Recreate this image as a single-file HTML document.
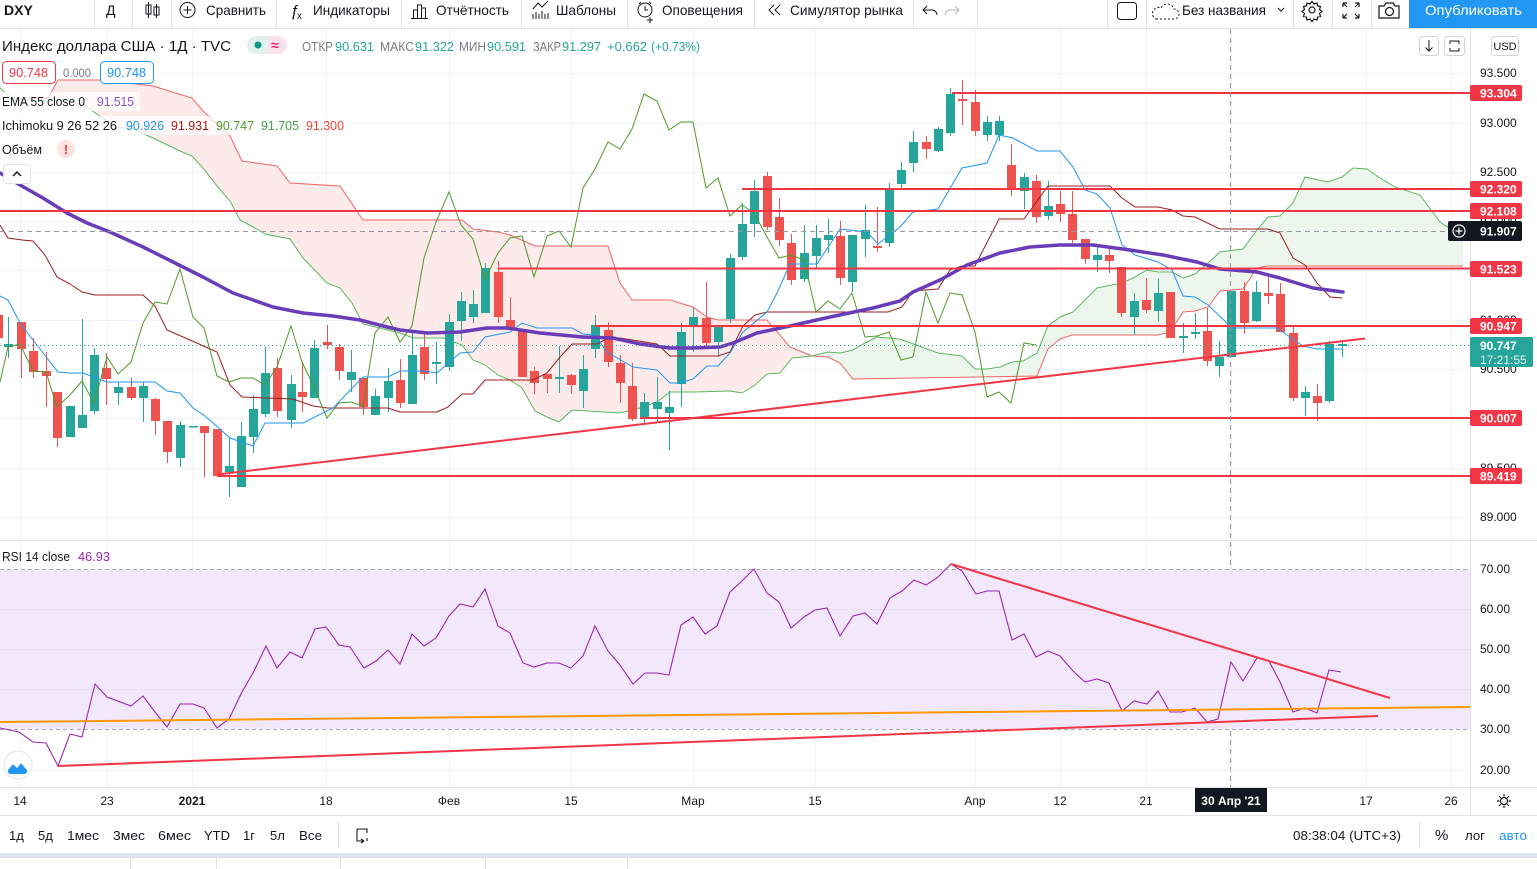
<!DOCTYPE html>
<html><head><meta charset="utf-8">
<style>
html,body{margin:0;padding:0;background:#fff;width:1537px;height:869px;overflow:hidden}
svg{display:block}
text{font-family:"Liberation Sans","Noto Sans CJK SC",sans-serif}
</style></head><body>
<svg width="1537" height="869" viewBox="0 0 1537 869" xmlns="http://www.w3.org/2000/svg">
<defs>
<clipPath id="mc"><rect x="0" y="29" width="1470" height="510"/></clipPath>
<clipPath id="rc"><rect x="0" y="541" width="1470" height="246"/></clipPath>
</defs>
<rect width="1537" height="869" fill="#fff"/>

<!-- ============ TOOLBAR ============ -->
<g fill="#131722" font-size="14">
<text x="4" y="15" font-weight="bold">DXY</text>
<text x="106" y="15">Д</text>
<g stroke="#131722" stroke-width="1" fill="none">
<path d="M148.5 2v16M156.5 4v14"/><rect x="146" y="5" width="5" height="9"/><rect x="154" y="7" width="5" height="8"/>
<circle cx="187.5" cy="10" r="7.5"/><path d="M187.5 6v8M183.5 10h8"/>
<path d="M413.5 18V10h4v8M417.5 18V5h4v13M421.5 18V8h4v10M411 18.5h17"/>
<path d="M533 19v-5M536 19v-7M539 19v-5M542 19v-8M545 19v-5M548 19v-6M533 9l5-6 4 4 6-6"/>
<circle cx="645" cy="10" r="7"/><path d="M645 6v4h3M650 17v6M647 20h6M639 4l2-2M651 4l-2-2"/>
<path d="M774 5l-5 5 5 5M780 5l-5 5 5 5"/>
<path d="M927 6l-4 4 4 4M923 10h9a5 5 0 0 1 5 5" />
</g>
<path d="M955 6l4 4-4 4M959 10h-9a5 5 0 0 0-5 5" stroke="#B2B5BE" fill="none"/>
<text x="290" y="16" font-style="italic" font-size="16">ƒ</text><text x="297" y="19" font-size="10">x</text>
<text x="206" y="15" textLength="60" lengthAdjust="spacingAndGlyphs">Сравнить</text>
<text x="313" y="15" textLength="77" lengthAdjust="spacingAndGlyphs">Индикаторы</text>
<text x="436" y="15" textLength="73" lengthAdjust="spacingAndGlyphs">Отчётность</text>
<text x="556" y="15" textLength="60" lengthAdjust="spacingAndGlyphs">Шаблоны</text>
<text x="662" y="15" textLength="81" lengthAdjust="spacingAndGlyphs">Оповещения</text>
<text x="790" y="15" textLength="113" lengthAdjust="spacingAndGlyphs">Симулятор рынка</text>
<rect x="1117.5" y="2.5" width="19" height="17" rx="3" fill="none" stroke="#131722"/>
<path d="M1156 19h18a5 5 0 0 0 0-10a7 7 0 0 0-13-1a6 6 0 0 0-5 11" fill="none" stroke="#131722" stroke-dasharray="2 2"/>
<text x="1182" y="15" textLength="84" lengthAdjust="spacingAndGlyphs">Без названия</text>
<path d="M1278 8l3 3 3-3" fill="none" stroke="#131722"/>
<g fill="none" stroke="#131722" stroke-width="1.2">
<circle cx="1312" cy="10" r="3"/>
<path d="M1312 1.5l2 2.5 3-1 .5 3 3 .5-1 3 2.5 2-2.5 2 1 3-3 .5-.5 3-3-1-2 2.5-2-2.5-3 1-.5-3-3-.5 1-3-2.5-2 2.5-2-1-3 3-.5.5-3 3 1z"/>
<path d="M1343 3l4 4M1343 3v4M1343 3h4M1359 3l-4 4M1359 3v4M1359 3h-4M1343 18l4-4M1343 18v-4M1343 18h4M1359 18l-4-4M1359 18v-4M1359 18h-4"/>
<path d="M1379 6h5l2-3h7l2 3h4v12h-20z"/><circle cx="1389.5" cy="11.5" r="4"/>
</g>
</g>
<rect x="1409" y="0" width="128" height="28" fill="#2196F3"/>
<text x="1425" y="15" fill="#fff" font-size="14" textLength="97" lengthAdjust="spacingAndGlyphs">Опубликовать</text>
<g stroke="#E0E3EB">
<path d="M94.5 0v28M132.5 0v28M171.5 0v28M276.5 0v28M401.5 0v28M521.5 0v28M627.5 0v28M754.5 0v28M913.5 0v28M977.5 0v28M1107.5 0v28M1146.5 0v28M1293.5 0v28M1332.5 0v28M1371.5 0v28"/>
<path d="M0 28.5h1537"/>
</g>

<!-- ============ GRID ============ -->
<g stroke="#F0F3FA" stroke-width="1">
<path d="M0 73.5h1470M0 123.5h1470M0 172.5h1470M0 221.5h1470M0 270.5h1470M0 320.5h1470M0 369.5h1470M0 418.5h1470M0 468.5h1470M0 517.5h1470"/>
<path d="M20.5 29v758M107.5 29v758M192.5 29v758M326.5 29v758M449.5 29v758M571.5 29v758M693.5 29v758M815.5 29v758M975.5 29v758M1060.5 29v758M1146.5 29v758M1231.5 29v758M1366.5 29v758M1451.5 29v758"/>
</g>

<!-- ============ MAIN PANE ============ -->
<g clip-path="url(#mc)">
<!-- cloud fills -->
<polygon fill="#FDEBEB" points="0,98 48,98 58,80 100,80 153,86 192,98 203,111 230,136 242,161 277,166 290,183 340,186 363,220 462,220 473,229 498,232 510,235 535,246 608,246 620,283 632,300 670,300 693,307 707,317 718,320 767,320 790,347 812,356 792,358 780,373 767,374 755,385 742,393 730,391 693,392 670,392 657,402 640,408 620,413 572,410 559,422 547,417 535,411 522,388 510,380 498,375 485,365 473,360 462,345 443,338 413,338 400,333 363,324 352,303 340,288 327,283 303,258 290,239 265,234 255,228 240,220 230,201 217,186 203,168 192,156 180,151 153,138 130,128 117,128 88,108 80,100 13,100 0,88"/>
<polygon fill="#ECF6EC" points="812,356 828,352 840,353 853,350 865,343 877,337 900,339 938,353 962,356 975,369 987,369 1000,367 1012,362 1023,361 1037,353 1048,326 1060,317 1073,312 1097,288 1122,283 1133,278 1147,270 1158,272 1172,272 1183,278 1195,274 1208,263 1220,252 1243,249 1257,230 1268,217 1280,216 1293,203 1305,177 1328,182 1342,177 1353,168 1367,169 1380,178 1395,187 1420,195 1440,222 1452,230 1463,232 1463,266 1268,266 1257,268 1243,289 1220,291 1208,307 1195,311 1183,312 1170,332 1158,335 1072,335 1060,339 1048,349 1037,376 853,379 840,363 828,357"/>
<!-- lead B -->
<polyline fill="none" stroke="#F26464" stroke-width="1" points="0,98 48,98 58,80 100,80 153,86 192,98 203,111 230,136 242,161 277,166 290,183 340,186 363,220 462,220 473,229 498,232 510,235 535,246 608,246 620,283 632,300 670,300 693,307 707,317 718,320 767,320 790,347 812,356 828,357 840,363 853,379 1037,376 1048,349 1060,339 1072,335 1158,335 1170,332 1183,312 1195,311 1208,307 1220,291 1243,289 1257,268 1268,266 1463,266"/>
<!-- lead A -->
<polyline fill="none" stroke="#5CB860" stroke-width="1" points="0,88 13,100 80,100 88,108 117,128 130,128 153,138 180,151 192,156 203,168 217,186 230,201 240,220 255,228 265,234 290,239 303,258 327,283 340,288 352,303 363,324 400,333 413,338 443,338 462,345 473,360 485,365 498,375 510,380 522,388 535,411 547,417 559,422 572,410 620,413 640,408 657,402 670,392 693,392 730,391 742,393 755,385 767,374 780,373 792,358 812,356 828,352 840,353 853,350 865,343 877,337 900,339 938,353 962,356 975,369 987,369 1000,367 1012,362 1023,361 1037,353 1048,326 1060,317 1073,312 1097,288 1122,283 1133,278 1147,270 1158,272 1172,272 1183,278 1195,274 1208,263 1220,252 1243,249 1257,230 1268,217 1280,216 1293,203 1305,177 1328,182 1342,177 1353,168 1367,169 1380,178 1395,187 1420,195 1440,222 1452,230 1463,232"/>

<!-- candles -->
<path stroke="#26A69A" stroke-width="1" fill="none" d="M8.5 317V358M70.5 406V437M82.5 319V428M94.5 348V414M118.5 382V405M143.5 382V422M180.5 421V467M229.5 438V497M241.5 422V487M253.5 395V453M265.5 347V417M291.5 375V428M314.5 340V398M351.5 350V392M375.5 389V415M388.5 368V412M412.5 332V404M436.5 342V384M449.5 314V371M461.5 292V341M473.5 290V323M485.5 263V313M559.5 346V393M583.5 355V408M595.5 315V358M644.5 393V423M657.5 377V422M669.5 391V450M681.5 323V407M693.5 308V352M718.5 327V357M730.5 254V323M742.5 203V260M754.5 180V237M804.5 225V282M816.5 225V268M828.5 219V253M852.5 235V292M865.5 205V257M889.5 183V247M901.5 162V189M913.5 131V172M938.5 127V152M950.5 88V136M987.5 116V141M999.5 116V141M1024.5 173V209M1048.5 181V220M1097.5 247V272M1134.5 293V335M1158.5 279V321M1183.5 323V353M1195.5 313V339M1219.5 341V377M1231.5 291V357M1256.5 281V322M1305.5 386V416M1329.5 341V403M1342.5 342V357"/>
<path fill="#26A69A" d="M4 344h9v3h-9zM66 406h9v31h-9zM78 415h9v13h-9zM90 355h9v56h-9zM114 387h9v6h-9zM139 386h9v12h-9zM176 425h9v33h-9zM189 426h9v1.5h-9zM225 466h9v6h-9zM237 436h9v51h-9zM249 409h9v28h-9zM261 373h9v41h-9zM287 384h9v36h-9zM310 348h9v50h-9zM347 372h9v8h-9zM371 396h9v19h-9zM384 381h9v17h-9zM408 355h9v49h-9zM432 362h9v2h-9zM445 322h9v45h-9zM457 301h9v20h-9zM469 304h9v13h-9zM481 268h9v45h-9zM555 377h9v2h-9zM579 369h9v22h-9zM591 325h9v24h-9zM640 402h9v15h-9zM653 402h9v7h-9zM665 407h9v6h-9zM677 332h9v52h-9zM689 317h9v10h-9zM714 327h9v15h-9zM726 258h9v61h-9zM738 224h9v33h-9zM750 191h9v33h-9zM800 253h9v26h-9zM812 238h9v18h-9zM824 235h9v5h-9zM848 235h9v47h-9zM861 230h9v9h-9zM885 189h9v54h-9zM897 170h9v14h-9zM909 142h9v21h-9zM934 129h9v22h-9zM946 94h9v39h-9zM983 122h9v13h-9zM995 121h9v14h-9zM1020 177h9v14h-9zM1044 206h9v10h-9zM1093 255h9v5h-9zM1130 301h9v16h-9zM1154 293h9v18h-9zM1179 336h9v2h-9zM1191 332h9v2h-9zM1215 357h9v9h-9zM1227 291h9v66h-9zM1252 292h9v29h-9zM1301 392h9v6h-9zM1325 344h9v57h-9zM1338 344h9v2h-9z"/>
<path stroke="#EF5350" stroke-width="1" fill="none" d="M-1.5 310V345M21.5 322V378M33.5 338V378M46.5 352V407M57.5 392V447M106.5 353V405M131.5 378V400M155.5 398V435M167.5 421V463M204.5 426V477M217.5 429V476M277.5 358V417M302.5 362V412M327.5 325V349M339.5 344V380M363.5 378V415M400.5 359V408M424.5 333V380M498.5 261V323M510.5 297V329M522.5 329V377M534.5 367V394M547.5 374V393M571.5 374V394M608.5 322V367M620.5 355V403M632.5 363V421M706.5 282V346M767.5 172V230M779.5 198V246M791.5 234V285M840.5 221V285M877.5 207V252M926.5 136V159M962.5 80V125M975.5 90V136M1011.5 144V196M1036.5 175V223M1060.5 191V222M1072.5 191V243M1085.5 239V264M1109.5 246V273M1121.5 267V317M1146.5 278V313M1170.5 292V338M1207.5 308V366M1244.5 282V334M1268.5 277V304M1280.5 283V332M1293.5 327V401M1317.5 384V421"/>
<path fill="#EF5350" d="M-6 315h9v23h-9zM17 322h9v27h-9zM29 351h9v21h-9zM42 371h9v5h-9zM53 392h9v46h-9zM102 368h9v11h-9zM127 387h9v11h-9zM151 399h9v22h-9zM163 421h9v31h-9zM200 426h9v7h-9zM213 429h9v47h-9zM273 368h9v43h-9zM298 392h9v5h-9zM323 342h9v3h-9zM335 347h9v24h-9zM359 378h9v29h-9zM396 380h9v23h-9zM420 347h9v27h-9zM494 272h9v45h-9zM506 320h9v9h-9zM518 329h9v48h-9zM530 371h9v12h-9zM543 374h9v5h-9zM567 375h9v10h-9zM604 330h9v32h-9zM616 363h9v20h-9zM628 386h9v33h-9zM702 318h9v25h-9zM763 176h9v51h-9zM775 217h9v23h-9zM787 243h9v37h-9zM836 236h9v42h-9zM873 246h9v2h-9zM922 142h9v7h-9zM958 99h9v2h-9zM971 102h9v29h-9zM1007 165h9v25h-9zM1032 181h9v36h-9zM1056 204h9v10h-9zM1068 214h9v26h-9zM1081 239h9v20h-9zM1105 255h9v6h-9zM1117 267h9v46h-9zM1142 300h9v10h-9zM1166 292h9v46h-9zM1203 331h9v30h-9zM1240 291h9v32h-9zM1264 293h9v3h-9zM1276 294h9v38h-9zM1289 333h9v65h-9zM1313 396h9v7h-9z"/>

<!-- kijun -->
<polyline fill="none" stroke="#9C1C1C" stroke-width="1" points="0,225 8,238 22,240 33,241 45,255 57,277 70,284 82,292 95,295 143,295 155,306 167,330 190,340 217,352 230,385 242,397 293,399 313,406 327,408 388,408 400,412 437,412 448,407 462,394 473,394 485,380 533,380 547,373 560,357 572,344 597,344 608,338 620,338 657,344 670,356 718,356 730,352 743,326 755,315 767,312 888,312 902,307 913,291 938,289 950,270 962,266 975,266 999,219 1024,219 1048,186 1110,186 1122,198 1135,207 1158,207 1172,210 1183,216 1195,217 1220,229 1268,229 1280,233 1293,258 1305,265 1317,283 1330,297 1342,298"/>
<!-- tenkan -->
<polyline fill="none" stroke="#2196F3" stroke-width="1" points="0,296 8,300 20,323 33,340 58,372 70,373 83,373 107,382 155,382 167,391 180,393 193,408 205,416 230,438 253,446 265,423 303,423 333,408 363,377 388,377 400,371 423,371 437,373 460,353 473,352 485,337 510,332 522,323 537,328 572,328 583,334 595,335 607,352 633,367 657,370 670,383 680,383 693,379 707,366 718,366 730,353 743,332 767,312 777,293 790,264 817,264 840,229 867,232 878,244 900,227 913,212 938,209 962,168 987,163 999,135 1013,138 1037,151 1060,151 1073,167 1085,190 1097,194 1110,208 1122,245 1135,255 1158,262 1172,270 1183,296 1195,297 1208,305 1227,323 1233,328 1277,328 1290,337 1303,346 1317,349 1342,349"/>
<!-- lagging -->
<polyline fill="none" stroke="#4E9A28" stroke-width="1" points="0,382 8,347 20,344 33,371 46,372 57,407 70,395 82,381 94,403 107,357 118,374 131,362 143,323 155,302 167,304 180,269 193,317 204,328 217,376 229,382 241,378 253,378 265,385 277,367 291,326 302,362 314,387 327,418 339,403 351,402 363,406 375,333 388,317 400,342 412,326 424,258 436,222 449,192 461,225 473,239 485,279 498,253 510,238 522,236 534,277 547,236 559,231 571,247 583,188 595,169 608,142 620,149 632,129 644,94 657,101 669,130 681,122 693,122 706,188 718,178 730,216 742,205 754,213 767,237 779,258 791,255 804,260 816,312 828,301 840,309 852,293 865,337 877,336 889,332 901,360 913,357 926,292 938,323 950,293 962,295 975,332 987,397 999,392 1011,403 1024,343 1036,345"/>
<!-- EMA 55 -->
<polyline fill="none" stroke="#6A3DB8" stroke-width="3.5" stroke-linejoin="round" stroke-linecap="round" points="0,173 20,185 43,198 67,213 87,223 110,232 143,247 173,262 203,277 233,293 253,300 273,307 303,313 333,316 360,320 383,326 400,330 427,333 460,332 487,328 507,328 540,333 583,337 613,338 640,344 670,348 693,348 720,347 733,343 757,333 790,326 830,317 873,308 900,301 913,292 940,280 967,265 1000,253 1030,247 1060,245 1093,245 1130,250 1163,255 1197,262 1220,269 1257,272 1280,278 1313,288 1343,292"/>

<!-- crosshair + price lines -->
<path d="M0 231.5h1470" stroke="#9598A1" stroke-dasharray="5 4" fill="none"/>
<path d="M0 345.5h1470" stroke="#26A69A" stroke-dasharray="1 3" fill="none"/>
<!-- drawings -->
<g stroke="#F23645" stroke-width="2" fill="none">
<path d="M952 93h518M742 189h728M0 211h1470M498 268.5h972M595 326h875M640 418h830M217 476h1253"/>
<path d="M217 474.5L1365 338.5"/>
</g>
</g>
<path d="M1230.5 29v758" stroke="#9598A1" stroke-dasharray="5 4" fill="none"/>

<!-- ============ LEGEND ============ -->
<text x="2" y="51" font-size="15" fill="#131722" textLength="229" lengthAdjust="spacingAndGlyphs">Индекс доллара США · 1Д · TVC</text>
<rect x="247" y="36" width="40" height="18" rx="9" fill="#FCE4EC"/>
<path d="M256 36h11v18h-11a9 9 0 0 1 0-18z" fill="#E0F2EF"/>
<circle cx="258" cy="45" r="3.5" fill="#089981"/>
<text x="271" y="50" font-size="14" font-weight="bold" fill="#E91E63">≈</text>
<g font-size="13">
<text x="302" y="51" fill="#787B86" textLength="31" lengthAdjust="spacingAndGlyphs">ОТКР</text>
<text x="335" y="51" fill="#26A69A" textLength="39" lengthAdjust="spacingAndGlyphs">90.631</text>
<text x="380" y="51" fill="#787B86" textLength="34" lengthAdjust="spacingAndGlyphs">МАКС</text>
<text x="415" y="51" fill="#26A69A" textLength="39" lengthAdjust="spacingAndGlyphs">91.322</text>
<text x="459" y="51" fill="#787B86" textLength="27" lengthAdjust="spacingAndGlyphs">МИН</text>
<text x="487" y="51" fill="#26A69A" textLength="39" lengthAdjust="spacingAndGlyphs">90.591</text>
<text x="533" y="51" fill="#787B86" textLength="28" lengthAdjust="spacingAndGlyphs">ЗАКР</text>
<text x="562" y="51" fill="#26A69A" textLength="39" lengthAdjust="spacingAndGlyphs">91.297</text>
<text x="607" y="51" fill="#26A69A" textLength="40" lengthAdjust="spacingAndGlyphs">+0.662</text>
<text x="651" y="51" fill="#26A69A" textLength="49" lengthAdjust="spacingAndGlyphs">(+0.73%)</text>

<rect x="2.5" y="61.5" width="53" height="22" rx="4" fill="#fff" stroke="#F23645"/>
<text x="9" y="77" fill="#F23645" textLength="39" lengthAdjust="spacingAndGlyphs">90.748</text>
<text x="63" y="77" fill="#787B86" font-size="12" textLength="28" lengthAdjust="spacingAndGlyphs">0.000</text>
<rect x="100.5" y="61.5" width="53" height="22" rx="4" fill="#fff" stroke="#2196F3"/>
<text x="107" y="77" fill="#2196F3" textLength="39" lengthAdjust="spacingAndGlyphs">90.748</text>

<rect x="0" y="92" width="140" height="19" fill="#fff" opacity="0.7"/>
<text x="2" y="106" fill="#131722" textLength="83" lengthAdjust="spacingAndGlyphs">EMA 55 close 0</text>
<text x="97" y="106" fill="#7E57C2" textLength="37" lengthAdjust="spacingAndGlyphs">91.515</text>

<rect x="0" y="116" width="348" height="19" fill="#fff" opacity="0.7"/>
<text x="2" y="130" fill="#131722" textLength="115" lengthAdjust="spacingAndGlyphs">Ichimoku 9 26 52 26</text>
<text x="126" y="130" fill="#2196F3" textLength="38" lengthAdjust="spacingAndGlyphs">90.926</text>
<text x="171" y="130" fill="#9C1C1C" textLength="38" lengthAdjust="spacingAndGlyphs">91.931</text>
<text x="216" y="130" fill="#4E9A28" textLength="38" lengthAdjust="spacingAndGlyphs">90.747</text>
<text x="261" y="130" fill="#43A047" textLength="38" lengthAdjust="spacingAndGlyphs">91.705</text>
<text x="306" y="130" fill="#F44336" textLength="38" lengthAdjust="spacingAndGlyphs">91.300</text>

<rect x="0" y="140" width="78" height="19" fill="#fff" opacity="0.7"/>
<text x="2" y="154" fill="#131722" textLength="40" lengthAdjust="spacingAndGlyphs">Объём</text>
<circle cx="66" cy="149" r="9" fill="#FDE2E2"/>
<text x="66" y="154" fill="#F23645" font-weight="bold" text-anchor="middle">!</text>
</g>
<rect x="3.5" y="164.5" width="27" height="19" rx="3" fill="#fff" stroke="#E0E3EB"/>
<path d="M13 176l4-4 4 4" fill="none" stroke="#131722" stroke-width="1.5"/>

<!-- top-right buttons -->
<rect x="1419.5" y="36.5" width="19" height="19" rx="3" fill="#fff" stroke="#D1D4DC"/>
<path d="M1429 40v11M1425.5 47.5l3.5 3.5 3.5-3.5" fill="none" stroke="#131722"/>
<rect x="1444.5" y="36.5" width="20" height="19" rx="3" fill="#fff" stroke="#D1D4DC"/>
<path d="M1450 44v-3h9v3M1450 48v3h9v-3" fill="none" stroke="#131722"/>
<rect x="1491.5" y="36.5" width="27" height="19" rx="3" fill="#fff" stroke="#D1D4DC"/>
<text x="1505" y="50" font-size="11" fill="#131722" text-anchor="middle">USD</text>

<!-- ============ RSI PANE ============ -->
<path d="M0 540.5h1537" stroke="#E0E3EB"/>
<g clip-path="url(#rc)">
<rect x="0" y="569" width="1470" height="160" fill="#F3E7FC"/>
<g stroke="#E9E0F2"><path d="M0 609.5h1470M0 649.5h1470M0 689.5h1470"/></g>
<path d="M0 770.5h1470" stroke="#F0F3FA"/>
<path d="M0 569.5h1470M0 729.5h1470" stroke="#A7A9B3" stroke-dasharray="4 3"/>
<polyline fill="none" stroke="#9C27B0" stroke-width="1.1" points="0,728 19,732 33,742 46,743 58,766 70,734 82,737 95,684 107,697 131,706 143,696 155,712 167,727 180,704 193,704 204,708 217,728 229,719 242,692 253,673 266,646 277,668 290,652 302,658 315,629 326,627 339,645 350,647 364,668 376,661 388,650 400,664 412,634 424,646 436,638 449,616 460,604 473,607 485,589 498,626 510,633 523,663 534,667 547,663 559,663 571,668 583,656 595,626 608,651 620,665 633,684 645,673 657,673 669,675 681,625 693,617 705,634 717,626 730,592 742,581 754,569 767,593 779,602 791,628 804,617 815,610 827,608 840,636 853,616 865,613 877,624 890,598 902,591 914,580 926,585 937,578 951,564 962,571 976,594 987,591 999,591 1012,640 1024,634 1036,657 1048,651 1060,656 1073,671 1085,682 1097,679 1109,683 1122,711 1134,701 1147,704 1158,691 1170,712 1182,712 1195,708 1207,722 1218,719 1231,662 1243,681 1257,658 1269,661 1280,682 1293,712 1305,708 1317,713 1329,670 1341,672"/>
<path d="M0 722L1470 707" stroke="#FF9800" stroke-width="2" fill="none"/>
<path d="M951 564L1390 698M58 766L1378 716" stroke="#F23645" stroke-width="2" fill="none"/>
</g>
<text x="2" y="561" font-size="12.5" fill="#131722" textLength="68" lengthAdjust="spacingAndGlyphs">RSI 14 close</text>
<text x="78" y="561" font-size="12.5" fill="#9C27B0" textLength="32" lengthAdjust="spacingAndGlyphs">46.93</text>
<circle cx="18" cy="765" r="14" fill="#fff" stroke="#E0E3EB"/>
<path d="M8 770l5-6 4 4 4-5 6 7a3 3 0 0 1-3 4h-13a3 3 0 0 1-3-4z" fill="#2196F3"/>
<path d="M9 768l4-5 4 4 4-5 5 6" fill="none" stroke="#fff" stroke-width="1.3"/>

<!-- ============ PRICE AXIS ============ -->
<path d="M1470.5 29v786" stroke="#E0E3EB"/>
<g font-size="12" fill="#131722">
<text x="1480" y="77">93.500</text>
<text x="1480" y="127">93.000</text>
<text x="1480" y="176">92.500</text>
<text x="1480" y="225">92.000</text>
<text x="1480" y="274">91.500</text>
<text x="1480" y="324">91.000</text>
<text x="1480" y="373">90.500</text>
<text x="1480" y="472">89.500</text>
<text x="1480" y="521">89.000</text>
<text x="1480" y="573">70.00</text>
<text x="1480" y="613">60.00</text>
<text x="1480" y="653">50.00</text>
<text x="1480" y="693">40.00</text>
<text x="1480" y="733">30.00</text>
<text x="1480" y="774">20.00</text>
</g>
<g fill="#F23645">
<rect x="1470" y="85" width="52" height="16" rx="2"/>
<rect x="1470" y="181" width="52" height="16" rx="2"/>
<rect x="1470" y="203" width="52" height="16" rx="2"/>
<rect x="1470" y="261" width="52" height="16" rx="2"/>
<rect x="1470" y="318" width="52" height="16" rx="2"/>
<rect x="1470" y="410" width="52" height="16" rx="2"/>
<rect x="1470" y="468" width="52" height="16" rx="2"/>
</g>
<rect x="1448" y="221" width="74" height="20" rx="2" fill="#131722"/>
<circle cx="1459" cy="231" r="6" fill="none" stroke="#fff" stroke-width="1.2"/>
<path d="M1459 227.5v7M1455.5 231h7" stroke="#fff" stroke-width="1.2"/>
<rect x="1470" y="337" width="63" height="30" rx="2" fill="#26A69A"/>
<g font-size="12" font-weight="bold" fill="#fff">
<text x="1480" y="97.5">93.304</text>
<text x="1480" y="193.5">92.320</text>
<text x="1480" y="215.5">92.108</text>
<text x="1480" y="235.5">91.907</text>
<text x="1480" y="273.5">91.523</text>
<text x="1480" y="330.5">90.947</text>
<text x="1480" y="422.5">90.007</text>
<text x="1480" y="480.5">89.419</text>
<text x="1480" y="350">90.747</text>
<text x="1480" y="364" font-weight="normal" fill="#E6F5F3">17:21:55</text>
</g>

<!-- ============ TIME AXIS ============ -->
<path d="M0 787.5h1537" stroke="#E0E3EB"/>
<g font-size="12" fill="#131722" text-anchor="middle">
<text x="20" y="805">14</text>
<text x="107" y="805">23</text>
<text x="192" y="805" font-weight="bold">2021</text>
<text x="326" y="805">18</text>
<text x="449" y="805">Фев</text>
<text x="571" y="805">15</text>
<text x="693" y="805">Мар</text>
<text x="815" y="805">15</text>
<text x="975" y="805">Апр</text>
<text x="1060" y="805">12</text>
<text x="1146" y="805">21</text>
<text x="1366" y="805">17</text>
<text x="1451" y="805">26</text>
</g>
<rect x="1195" y="788" width="72" height="24" fill="#131722"/>
<text x="1231" y="805" font-size="12" font-weight="bold" fill="#fff" text-anchor="middle">30 Апр '21</text>
<g fill="none" stroke="#131722" stroke-width="1.2">
<circle cx="1504" cy="801" r="3.5"/>
<path d="M1504 794v2.5M1504 805.5v2.5M1497 801h2.5M1508.5 801h2.5M1499 796l1.8 1.8M1507.2 804.2l1.8 1.8M1509 796l-1.8 1.8M1500.8 804.2l-1.8 1.8"/>
</g>

<!-- ============ BOTTOM BAR ============ -->
<path d="M0 815.5h1537" stroke="#E0E3EB"/>
<g font-size="13" fill="#131722">
<text x="9" y="840">1д</text>
<text x="38" y="840">5д</text>
<text x="67" y="840" textLength="32" lengthAdjust="spacingAndGlyphs">1мес</text>
<text x="113" y="840" textLength="32" lengthAdjust="spacingAndGlyphs">3мес</text>
<text x="158" y="840" textLength="33" lengthAdjust="spacingAndGlyphs">6мес</text>
<text x="204" y="840" textLength="26" lengthAdjust="spacingAndGlyphs">YTD</text>
<text x="243" y="840">1г</text>
<text x="270" y="840">5л</text>
<text x="299" y="840" textLength="23" lengthAdjust="spacingAndGlyphs">Все</text>
<text x="1293" y="840" textLength="108" lengthAdjust="spacingAndGlyphs">08:38:04 (UTC+3)</text>
<text x="1435" y="840" font-size="15">%</text>
<text x="1465" y="840" textLength="20" lengthAdjust="spacingAndGlyphs">лог</text>
<text x="1499" y="840" fill="#2196F3" textLength="28" lengthAdjust="spacingAndGlyphs">авто</text>
</g>
<path d="M338.5 822v26M1419.5 822v26" stroke="#E0E3EB"/>
<path d="M357 829h10v4M357 829v12h3M364 841l-3-2M364 841l-3 2M364 841h-6M367 838v3" fill="none" stroke="#131722" stroke-width="1.1"/>
<rect x="0" y="853" width="1537" height="5" fill="#E0E3EB"/>
<path d="M130.5 858v11M216.5 858v11M340.5 858v11M485.5 858v11M627.5 858v11" stroke="#E0E3EB"/>
</svg>
</body></html>
